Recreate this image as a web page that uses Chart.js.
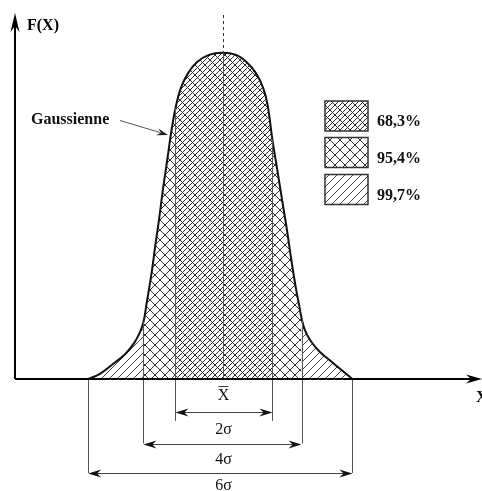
<!DOCTYPE html>
<html>
<head>
<meta charset="utf-8">
<script src="https://cdn.jsdelivr.net/npm/chart.js@4.4.0/dist/chart.umd.min.js"></script>
<style>
  html, body { margin: 0; padding: 0; background: #fff; }
  canvas { display: block; }
</style>
</head>
<body>
<canvas id="gauss" width="482" height="491"></canvas>
<script>
// Gaussian outline (x in sigma units, y as share of axis height)
var curveX = [-2.77, -2.53, -2.26, -2.01, -1.82, -1.70, -1.63, -1.57, -1.46, -1.39, -1.31, -1.23, -1.14, -1.06,
              -0.97, -0.86, -0.71, -0.53, -0.28, 0, 0.28, 0.50, 0.69, 0.84, 0.93, 1.03, 1.13, 1.23, 1.33,
              1.42, 1.52, 1.58, 1.63, 1.70, 1.82, 2.01, 2.28, 2.48, 2.68];
var curveY = [0, 0.014, 0.041, 0.068, 0.099, 0.129, 0.156, 0.203, 0.293, 0.362, 0.436, 0.518, 0.600, 0.674,
              0.742, 0.797, 0.838, 0.868, 0.888, 0.894, 0.888, 0.868, 0.838, 0.797, 0.751, 0.655, 0.573, 0.490, 0.408,
              0.326, 0.244, 0.203, 0.167, 0.134, 0.104, 0.074, 0.044, 0.022, 0];

// limits of the three zones: 6σ, 4σ, 2σ (left then right)
var limitX = [-2.77, -1.63, -0.97, 1.03, 1.63, 2.68];
var meanX = 0;
var legendLabels = ['68,3%', '95,4%', '99,7%'];
var spanLabels = ['2σ', '4σ', '6σ'];

var canvas = document.getElementById('gauss');
var ctx0 = canvas.getContext('2d');

// hatch tiles
function hatch(size, lines, color) {
    var c = document.createElement('canvas');
    c.width = size;
    c.height = size;
    var g = c.getContext('2d');
    g.strokeStyle = color;
    g.lineWidth = 1;
    g.beginPath();
    lines.forEach(function(l) {
        for (var k = -1; k <= 1; k++) {
            var x0 = k * size + l.off;
            if (l.dir === '/') {
                g.moveTo(x0, size);
                g.lineTo(x0 + size, 0);
            } else {
                g.moveTo(x0, 0);
                g.lineTo(x0 + size, size);
            }
        }
    });
    g.stroke();
    return ctx0.createPattern(c, 'repeat');
}

var hatch68 = hatch(10, [{dir: '/', off: 0}, {dir: '/', off: 5}, {dir: '\\', off: 0}], '#2a2a2a');
var hatch95 = hatch(10, [{dir: '/', off: 0}, {dir: '\\', off: 0}], '#333');
var hatch99 = hatch(8, [{dir: '/', off: 0}], '#444');
var legendFills = [hatch68, hatch95, hatch99];

function zoneFill(c) {
    var a = curveX[c.p0DataIndex], b = curveX[c.p1DataIndex];
    if (a >= limitX[2] && b <= limitX[3]) return hatch68;
    if (a >= limitX[1] && b <= limitX[4]) return hatch95;
    return hatch99;
}

function arrowHead(ctx, x, y, ang, len, half) {
    ctx.save();
    ctx.translate(x, y);
    ctx.rotate(ang);
    ctx.beginPath();
    ctx.moveTo(0, 0);
    ctx.lineTo(-len, -half);
    ctx.lineTo(-len * 0.68, 0);
    ctx.lineTo(-len, half);
    ctx.closePath();
    ctx.fill();
    ctx.restore();
}

var sketch = {
    id: 'sketch',
    afterDatasetsDraw: function(chart) {
        var ctx = chart.ctx;
        var xs = chart.scales.x, area = chart.chartArea;
        var pts = chart.getDatasetMeta(0).data;
        var base = area.bottom;

        ctx.save();
        // zone limits
        ctx.strokeStyle = '#555';
        ctx.lineWidth = 1;
        var drops = [94, 64.5, 42, 42, 64.5, 94];
        limitX.forEach(function(v, i) {
            var j = curveX.indexOf(v);
            var px = Math.round(xs.getPixelForValue(v)) + 0.5;
            ctx.beginPath();
            ctx.moveTo(px, pts[j].y);
            ctx.lineTo(px, base + drops[i]);
            ctx.stroke();
        });

        // mean line: solid under the curve, dashed above
        var m = curveX.indexOf(meanX);
        var mx = Math.round(xs.getPixelForValue(meanX)) + 0.5;
        ctx.beginPath();
        ctx.moveTo(mx, pts[m].y);
        ctx.lineTo(mx, base);
        ctx.stroke();
        ctx.setLineDash([3, 3]);
        ctx.strokeStyle = '#333';
        ctx.beginPath();
        ctx.moveTo(mx, area.top + 1);
        ctx.lineTo(mx, pts[m].y);
        ctx.stroke();
        ctx.setLineDash([]);

        // spans 2σ, 4σ, 6σ
        var levels = [32.7, 64.5, 94];
        var labelY = [54.5, 84.5, 111];
        ctx.fillStyle = '#111';
        ctx.strokeStyle = '#444';
        for (var s = 0; s < 3; s++) {
            var xa = xs.getPixelForValue(limitX[2 - s]);
            var xb = xs.getPixelForValue(limitX[3 + s]);
            var y = Math.round(base + levels[s]) + 0.5;
            ctx.beginPath();
            ctx.moveTo(xa + 4, y);
            ctx.lineTo(xb - 4, y);
            ctx.stroke();
            arrowHead(ctx, xa, y, Math.PI, 13, 4);
            arrowHead(ctx, xb, y, 0, 13, 4);
            ctx.font = '16px "Liberation Serif"';
            ctx.textAlign = 'center';
            ctx.textBaseline = 'alphabetic';
            ctx.fillText(spanLabels[s], mx, base + labelY[s]);
        }

        // mean label
        ctx.font = '16px "Liberation Serif"';
        ctx.textAlign = 'center';
        ctx.fillText('X', mx, base + 21);
        ctx.lineWidth = 1;
        ctx.beginPath();
        ctx.moveTo(mx - 5, base + 7.5);
        ctx.lineTo(mx + 5, base + 7.5);
        ctx.stroke();

        // legend
        ctx.textAlign = 'left';
        var boxTop = [101, 137.5, 174.5];
        legendLabels.forEach(function(t, i) {
            ctx.fillStyle = legendFills[i];
            ctx.fillRect(325, boxTop[i], 43, 30);
            ctx.strokeStyle = '#333';
            ctx.lineWidth = 1.5;
            ctx.strokeRect(325, boxTop[i], 43, 30);
            ctx.fillStyle = '#111';
            ctx.font = 'bold 16px "Liberation Serif"';
            ctx.fillText(t, 377, boxTop[i] + 25);
        });

        // Gaussienne label with its arrow
        ctx.fillText('Gaussienne', 31, 124);
        ctx.strokeStyle = '#555';
        ctx.lineWidth = 1;
        ctx.beginPath();
        ctx.moveTo(120, 120.5);
        ctx.lineTo(160, 132.5);
        ctx.stroke();
        ctx.fillStyle = '#222';
        arrowHead(ctx, 168, 135, Math.atan2(14.5, 48), 11, 3.5);
        ctx.restore();
    },
    afterDraw: function(chart) {
        var ctx = chart.ctx, area = chart.chartArea;
        ctx.save();
        ctx.strokeStyle = '#000';
        ctx.fillStyle = '#000';
        ctx.lineWidth = 2;
        ctx.beginPath();
        ctx.moveTo(area.left, area.bottom);
        ctx.lineTo(area.left, area.top + 10);
        ctx.moveTo(area.left, area.bottom);
        ctx.lineTo(474, area.bottom);
        ctx.stroke();
        arrowHead(ctx, area.left, area.top - 1, -Math.PI / 2, 19, 4.5);
        arrowHead(ctx, 482, area.bottom, 0, 16, 4.5);
        ctx.font = 'bold 16px "Liberation Serif"';
        ctx.textAlign = 'left';
        ctx.fillText('F(X)', 27, 30);
        ctx.fillText('X', 476, 402);
        ctx.restore();
    }
};

new Chart(canvas, {
    type: 'line',
    data: {
        datasets: [{
            label: 'Gaussienne',
            data: curveX.map(function(x, i) { return {x: x, y: curveY[i]}; }),
            borderColor: '#111',
            borderWidth: 2,
            backgroundColor: hatch99,
            fill: 'origin',
            pointRadius: 0,
            tension: 0.4,
            clip: false,
            segment: {
                backgroundColor: zoneFill
            }
        }]
    },
    options: {
        responsive: false,
        animation: false,
        layout: {
            padding: {left: 15, right: 4, top: 14, bottom: 112}
        },
        scales: {
            x: {type: 'linear', min: -4.28, max: 5.27, display: false},
            y: {min: 0, max: 1, display: false}
        },
        plugins: {
            legend: {display: false},
            tooltip: {enabled: false}
        }
    },
    plugins: [sketch]
});
</script>
</body>
</html>
